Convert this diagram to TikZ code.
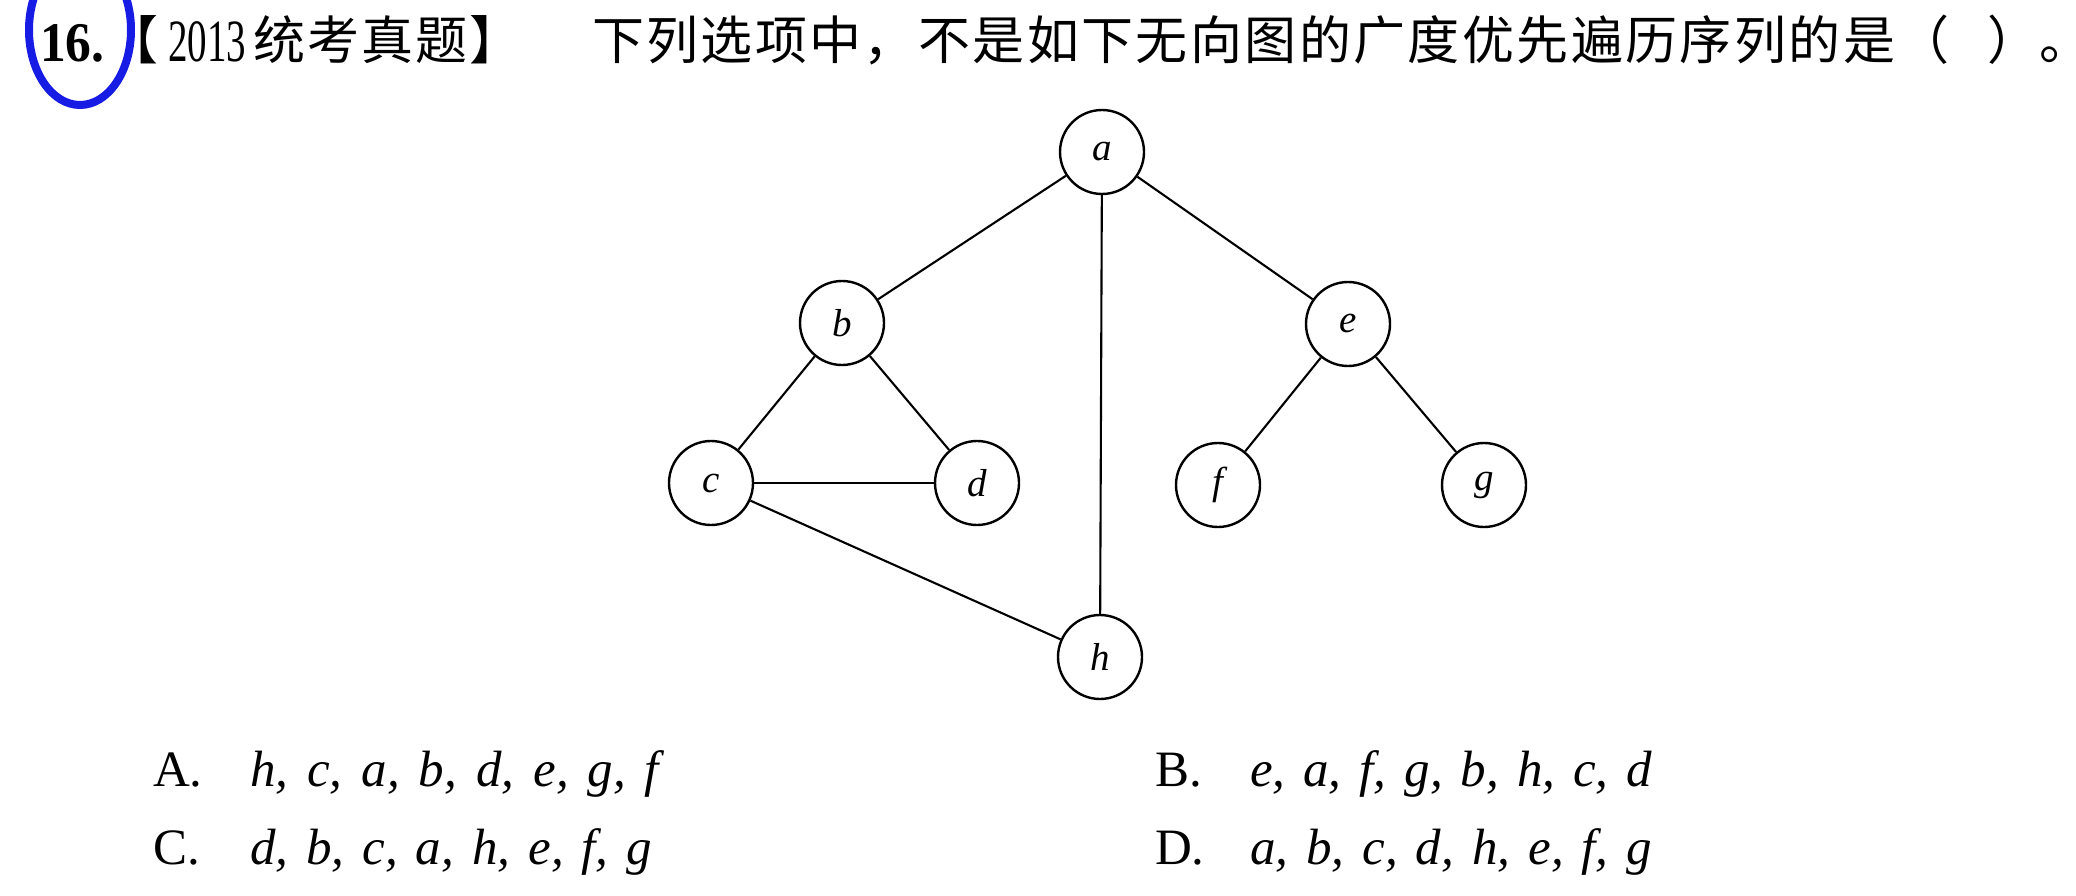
\documentclass[tikz,border=0pt]{standalone}
\usepackage{fontspec}
\usepackage{graphicx}
\setmainfont{Liberation Serif}
\newfontfamily\cjk[LetterSpace=4.6]{Noto Sans CJK SC}
\newfontfamily\cjkb[LetterSpace=4]{Noto Sans CJK SC}
\newfontfamily\cjktight{Noto Sans CJK SC}
\definecolor{penblue}{RGB}{22,28,228}
\tikzset{
  vtx/.style={circle,draw,line width=2.4pt,minimum size=84pt,inner sep=0pt,
    font=\fontsize{39}{40}\selectfont\itshape},
  lnk/.style={line width=2.1pt},
  txt/.style={anchor=base west,inner sep=0pt,outer sep=0pt},
  optfont/.style={font=\fontsize{51}{60}\selectfont},
}
\begin{document}
\begin{tikzpicture}[x=1pt,y=-1pt]
\useasboundingbox[fill=white] (0,0) rectangle (2076,896);
% title
\node[txt,font=\fontsize{56}{60}\selectfont\bfseries] (num) at (40,62) {\scalebox{0.92}[1]{16.}};
\draw[penblue,line width=8pt] (80,30) ellipse [x radius=51, y radius=75];
\node[txt,font=\fontsize{52}{60}\selectfont\cjktight] (lb) at (106,60) {【};
\node[txt,font=\fontsize{60}{60}\selectfont] (yr) at (168,62) {\scalebox{0.65}[1]{2013}};
\node[txt,font=\fontsize{52}{60}\selectfont\cjkb] (t1) at (253,60) {统考真题】};
\node[txt,font=\fontsize{52}{60}\selectfont\cjk] (t2) at (592,60) {下列选项中，不是如下无向图的广度优先遍历序列的是（\hspace{38pt}）\makebox[0.4em][l]{。}};
% graph
\node[vtx] (a) at (1102,152) {a};
\node[vtx] (b) at (842,323) {b};
\node[vtx] (e) at (1348,324) {e};
\node[vtx] (c) at (711,483) {c};
\node[vtx] (d) at (977,483) {d};
\node[vtx] (f) at (1218,485) {f};
\node[vtx] (g) at (1484,485) {g};
\node[vtx] (h) at (1100,657) {h};
\draw[lnk] (a) -- (b);
\draw[lnk] (a) -- (e);
\draw[lnk] (a) -- (h);
\draw[lnk] (b) -- (c);
\draw[lnk] (b) -- (d);
\draw[lnk] (c) -- (d);
\draw[lnk] (c) -- (h);
\draw[lnk] (e) -- (f);
\draw[lnk] (e) -- (g);
% options
\node[txt,optfont] (A) at (153,786) {A.};
\node[txt,optfont] (Ai) at (250,786) {\spaceskip=19pt\itshape h, c, a, b, d, e, g, f};
\node[txt,optfont] (B) at (1155,786) {B.};
\node[txt,optfont] (Bi) at (1250,786) {\spaceskip=18pt\itshape e, a, f, g, b, h, c, d};
\node[txt,optfont] (C) at (153,864) {C.};
\node[txt,optfont] (Ci) at (250,864) {\spaceskip=18pt\itshape d, b, c, a, h, e, f, g};
\node[txt,optfont] (D) at (1155,864) {D.};
\node[txt,optfont] (Di) at (1250,864) {\spaceskip=18pt\itshape a, b, c, d, h, e, f, g};
\end{tikzpicture}
\end{document}
